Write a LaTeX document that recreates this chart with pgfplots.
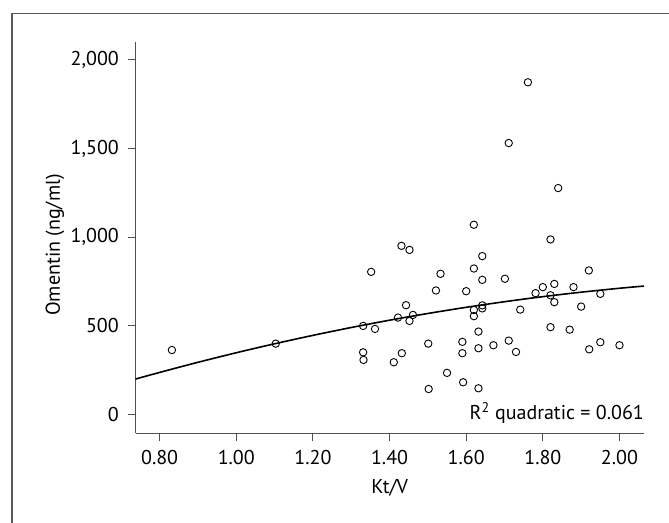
\documentclass[border=0pt]{standalone}
\usepackage{fontspec}
\setmainfont{PT Sans}
\usepackage{pgfplots}
\pgfplotsset{compat=1.18}
\definecolor{axgray}{RGB}{80,80,80}
\definecolor{framegray}{RGB}{90,90,90}
\begin{document}
\begin{tikzpicture}[x=1pt,y=1pt]
\useasboundingbox (0,0) rectangle (669,522);
\draw[line width=1.4pt, color=framegray] (12,-20) -- (12,508.7) -- (690,508.7);
\begin{axis}[
  at={(135.5pt,88.7pt)}, anchor=south west,
  scale only axis, width=508.5pt, height=391.6pt,
  xmin=0.737, xmax=2.064, ymin=-107, ymax=2103,
  axis lines*=left,
  axis line style={-, color=axgray, line width=1pt},
  tick style={color=axgray, line width=1pt},
  tick align=outside, major tick length=7.5pt,
  xtick={0.8,1.0,1.2,1.4,1.6,1.8,2.0},
  xticklabels={0.80,1.00,1.20,1.40,1.60,1.80,2.00},
  ytick={0,500,1000,1500,2000},
  yticklabels={0,500,{1,000},{1,500},{2,000}},
  font=\fontsize{20}{24}\selectfont,
  tick label style={font=\fontsize{20}{24}\selectfont, inner sep=0pt},
  xticklabel style={anchor=north, yshift=-9pt},
  yticklabel style={anchor=east, xshift=-9pt},
  xlabel={Kt/V},
  ylabel={Omentin (ng/ml)},
  xlabel style={at={(rel axis cs:0.5,0)}, anchor=base, yshift=-59.7pt, inner sep=0pt},
  ylabel style={at={(rel axis cs:-0.1485,0.4808)}, anchor=base, rotate=0, inner sep=0pt},
  clip=false,
]
\addplot[only marks, mark=o, mark size=3.7pt, mark options={line width=0.9pt, black}] coordinates {
(0.832,363) (1.103,399) (1.331,499) (1.331,350) (1.332,307) (1.352,804)
(1.362,482) (1.411,294) (1.422,546) (1.431,951) (1.432,345) (1.443,616)
(1.452,928) (1.452,527) (1.461,561) (1.501,399) (1.502,143) (1.521,699)
(1.533,793) (1.550,234) (1.590,409) (1.590,345) (1.592,181) (1.600,695)
(1.620,1070) (1.620,823) (1.620,589) (1.620,554) (1.632,467) (1.632,373)
(1.632,147) (1.642,893) (1.642,759) (1.642,615) (1.642,598) (1.671,390)
(1.701,765) (1.711,1531) (1.711,416) (1.730,352) (1.741,591) (1.761,1874)
(1.781,684) (1.800,718) (1.820,987) (1.820,672) (1.820,492) (1.830,736)
(1.830,633) (1.840,1277) (1.870,478) (1.880,718) (1.900,608) (1.920,812)
(1.921,367) (1.950,680) (1.950,407) (2.000,390)
};
\addplot[smooth, line width=1.6pt, black] coordinates {
(0.737,199.1) (0.8,236.6) (0.9,293.7) (1.0,347.6) (1.1,398.2) (1.2,445.7)
(1.3,490.0) (1.4,531.3) (1.5,569.2) (1.6,604.0) (1.7,635.6) (1.8,664.1)
(1.9,689.4) (2.0,711.5) (2.064,723.9)
};
\node[anchor=base east, inner sep=0pt, font=\fontsize{20}{24}\selectfont] at (rel axis cs:1,0.034) {R\textsuperscript{2} quadratic = 0.061};
\end{axis}
\end{tikzpicture}
\end{document}
